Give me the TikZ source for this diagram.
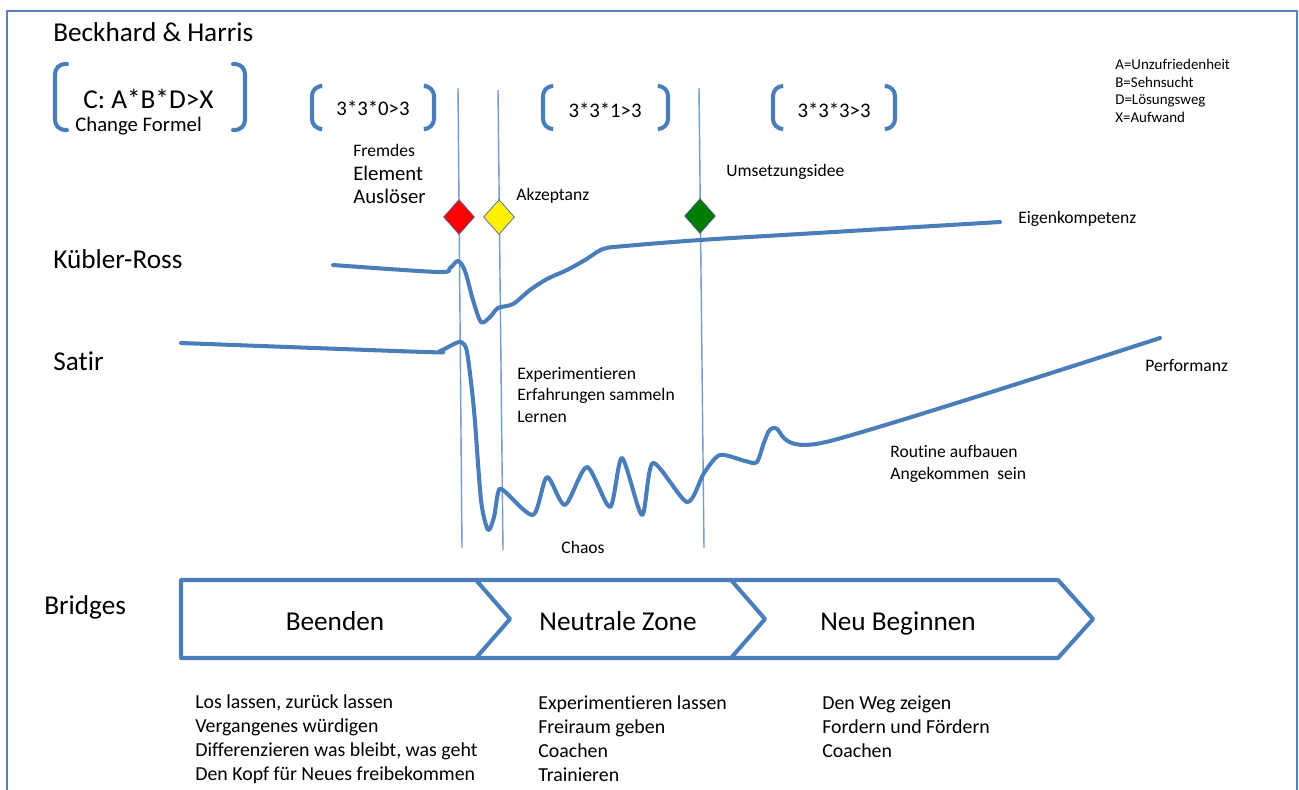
\documentclass[tikz,border=0pt]{standalone}
\usepackage{fontspec}
\setmainfont{Carlito}[Ligatures=NoCommon]
\usetikzlibrary{shapes.geometric}
\definecolor{kurve}{RGB}{74,126,187}
\definecolor{linie}{RGB}{115,155,208}
\definecolor{rahmen}{RGB}{84,130,192}
\definecolor{gruen}{RGB}{0,125,0}

\begin{document}
\begin{tikzpicture}[x=0.02cm,y=-0.02cm,
		gross/.style={anchor=west,inner sep=0pt,font=\fontsize{15.5}{18}\selectfont},
		mittel/.style={anchor=west,inner sep=0pt,font=\fontsize{11.8}{14}\selectfont},
		klein/.style={anchor=west,inner sep=0pt,align=left,font=\fontsize{10}{12.5}\selectfont},
		legende/.style={anchor=west,inner sep=0pt,align=left,font=\fontsize{8.5}{10}\selectfont},
		liste/.style={anchor=west,inner sep=0pt,align=left,font=\fontsize{11.3}{13.65}\selectfont},
		phase/.style={anchor=base,inner sep=0pt,font=\fontsize{15.5}{18}\selectfont},
		klammer/.style={draw=kurve,line width=2.3pt,rounded corners=0.2cm,line cap=round},
		kurvenlinie/.style={draw=kurve,line width=2.3pt,line cap=round,line join=round},
		marke/.style={draw=linie,line width=0.8pt},
		raute/.style={diamond,draw=gray!70!blue,line width=0.4pt,inner sep=0pt,minimum width=0.62cm,minimum height=0.70cm},
		pfeil/.style={draw=kurve,line width=2.3pt,line join=round}]

	\useasboundingbox (0,0) rectangle (1299,789);
	\clip (0,0) rectangle (1299,789);
	\draw[rahmen,line width=1.4pt] (7,11) rectangle (1297,820);

	% Beckhard & Harris
	\node[gross] (bh) at (53,32) {Beckhard \& Harris};
	\draw[klammer] (67,64) -- (55,64) -- (55,130) -- (67,130);
	\draw[klammer] (233,64) -- (245,64) -- (245,130) -- (233,130);
	\node[gross] (formel) at (83,99) {C: A*B*D>X};
	\node[mittel] (formeltxt) at (75,126) {Change Formel};

	\draw[klammer] (320,86) -- (312,86) -- (312,129) -- (320,129);
	\draw[klammer] (426,86) -- (434,86) -- (434,129) -- (426,129);
	\node[mittel,anchor=center] (f1) at (373,108) {3*3*0>3};

	\draw[klammer] (552,86) -- (543,86) -- (543,129) -- (552,129);
	\draw[klammer] (659,86) -- (668,86) -- (668,129) -- (659,129);
	\node[mittel,anchor=center] (f2) at (605,110) {3*3*1>3};

	\draw[klammer] (782,86) -- (773,86) -- (773,129) -- (782,129);
	\draw[klammer] (886,86) -- (895,86) -- (895,129) -- (886,129);
	\node[mittel,anchor=center] (f3) at (834,110) {3*3*3>3};

	\node[legende] (leg) at (1115,91) {A=Unzufriedenheit\\B=Sehnsucht\\D=Lösungsweg\\X=Aufwand};

	\node[klein] (fremd) at (353,150) {Fremdes};
	\node[mittel] (elem) at (353,173) {Element};
	\node[mittel] (ausl) at (353,196) {Auslöser};
	\node[klein] (akz) at (516,196) {Akzeptanz};
	\node[klein] (ums) at (726,172) {Umsetzungsidee};

	% Marker
	\coordinate (rtop) at (458,88);
	\coordinate (rbot) at (462,548);
	\coordinate (ytop) at (498,90);
	\coordinate (ybot) at (503,550);
	\coordinate (gtop) at (699,88);
	\coordinate (gbot) at (704,548);
	\draw[marke] (rtop) -- (rbot);
	\draw[marke] (ytop) -- (ybot);
	\draw[marke] (gtop) -- (gbot);
	\node[raute,fill=red] (rot) at (459,217) {};
	\node[raute,fill=yellow] (gelb) at (499,217) {};
	\node[raute,fill=gruen] (gr) at (700,216) {};

	% Kuebler-Ross
	\node[gross] (kr) at (53,259) {Kübler-Ross};
	\draw[kurvenlinie] plot[smooth,tension=0.5] coordinates {(333,265) (438,272) (450,268) (458,261) (465,271) (473,300) (481,322) (490,317) (498,308) (513,304) (530,290) (547,279) (567,270) (585,260) (603,249) (625,246) (700,240) (800,234) (1000,222)};
	\node[klein] (eigen) at (1018,219) {Eigenkompetenz};

	% Satir
	\node[gross] (satir) at (53,361) {Satir};
	\draw[kurvenlinie] plot[smooth,tension=0.45] coordinates {(181,343) (425,352) (440,351) (452,345) (461,342) (467,352) (474,410) (481,500) (488,530) (494,517) (498,493) (503,490) (533,515) (547,477) (565,505) (587,467) (610,507) (622,458) (642,515) (653,463) (687,502) (704,473) (720,455) (745,461) (757,462) (765,440) (775,428) (826,442) (1160,338)};
	\node[klein] (perf) at (1145,366) {Performanz};
	\node[klein] (exp) at (517,395) {Experimentieren\\Erfahrungen sammeln\\Lernen};
	\node[klein,anchor=center] (chaos) at (583,547) {Chaos};
	\node[klein] (rout) at (890,464) {Routine aufbauen\\Angekommen\ \ sein};

	% Bridges
	\node[gross] (bridges) at (44,607) {Bridges};
	\draw[pfeil] (181,580) -- (476,580) -- (510,619) -- (476,658) -- (181,658) -- cycle;
	\draw[pfeil] (476,580) -- (731,580) -- (765,619) -- (731,658) -- (476,658);
	\draw[pfeil] (731,580) -- (1058,580) -- (1093,619) -- (1058,658) -- (731,658);
	\node[phase] (beenden) at (335,630) {Beenden};
	\node[phase] (neutral) at (618,630) {Neutrale Zone};
	\node[phase] (neu) at (898,630) {Neu Beginnen};

	\node[liste] (l1) at (195,739) {Los lassen, zurück lassen\\Vergangenes würdigen\\Differenzieren was bleibt, was geht\\Den Kopf für Neues freibekommen};
	\node[liste] (l2) at (538,739) {Experimentieren lassen\\Freiraum geben\\Coachen\\Trainieren};
	\node[liste] (l3) at (822,727) {Den Weg zeigen\\Fordern und Fördern\\Coachen};
\end{tikzpicture}
\end{document}
